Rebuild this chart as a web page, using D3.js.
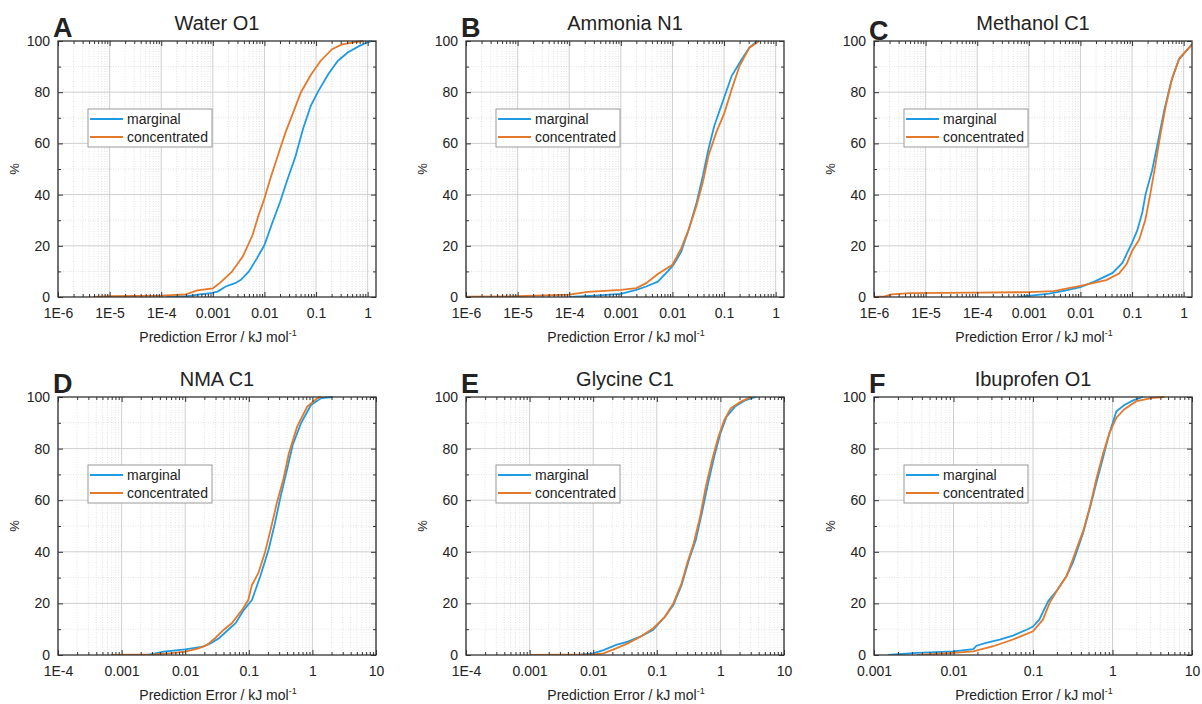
<!DOCTYPE html>
<html>
<head>
<meta charset="utf-8">
<script src="https://cdn.jsdelivr.net/npm/d3@7"></script>
<style>
  body { margin: 0; background: #fff; }
  text { font-family: "Liberation Sans", Arial, sans-serif; fill: #222; }
</style>
</head>
<body>
<div id="canvas"></div>
<script>
// ---- data: [prediction error, cumulative %] ----
const waterMarginal = [[1.26e-4,0],[3.2e-4,0.3],[5.6e-4,1.0],[1e-3,1.6],[1.26e-3,2.2],[1.78e-3,4.1],[2.7e-3,5.4],[3.5e-3,6.7],[5e-3,10],[7.1e-3,15],[0.01,20.3],[0.0141,28.8],[0.02,37],[0.028,46],[0.04,55],[0.056,65.7],[0.079,74.7],[0.112,80.6],[0.172,87],[0.263,92.2],[0.41,95.5],[0.68,98],[1.0,99.5],[1.2,100]];
const waterConc = [[4.8e-6,0],[1e-5,0.3],[1e-4,0.5],[3e-4,1.0],[5e-4,2.6],[1e-3,3.4],[1.36e-3,5.4],[2.3e-3,9.7],[3.8e-3,15.8],[5.9e-3,24.2],[7.7e-3,32],[0.01,38.5],[0.0129,46],[0.018,55],[0.0257,64.4],[0.036,72],[0.051,80],[0.079,86.7],[0.122,92.2],[0.204,96.8],[0.316,98.7],[0.575,99.6],[0.81,100]];

const ammoniaMarginal = [[1e-4,0],[3.2e-4,0.5],[1e-3,1.2],[2e-3,2.8],[3.1e-3,4.1],[5.2e-3,6],[8.1e-3,10],[0.0105,12.6],[0.0148,17.7],[0.021,26.8],[0.0295,37],[0.039,47.5],[0.05,57.9],[0.065,67],[0.093,76],[0.141,86.4],[0.22,92.9],[0.31,97.4],[0.44,100]];
const ammoniaConc = [[1e-6,0.1],[1e-5,0.3],[1e-4,0.9],[2.3e-4,2.0],[1e-3,2.8],[2e-3,3.5],[3.1e-3,5.4],[5.2e-3,9],[0.01,12.6],[0.0148,19],[0.021,26.8],[0.0295,35.9],[0.039,45],[0.05,55.3],[0.071,64.4],[0.1,71.5],[0.141,81.2],[0.2,90.3],[0.31,97.4],[0.48,100]];

const methanolMarginal = [[6.3e-4,0],[2.5e-3,1.3],[5e-3,2.5],[0.01,3.9],[0.02,6.3],[0.042,9.4],[0.065,13.3],[0.1,21.2],[0.126,26],[0.158,33],[0.182,40],[0.245,49.5],[0.32,61],[0.42,73],[0.57,84],[0.8,92.6],[1.45,98.8]];
const methanolConc = [[1e-6,0],[1.6e-6,0.2],[2.2e-6,1.0],[5e-6,1.5],[1e-4,1.7],[1e-3,1.9],[3e-3,2.3],[0.01,4.3],[0.0316,6.6],[0.056,9.2],[0.079,13],[0.1,18],[0.138,22.5],[0.18,30],[0.22,39],[0.28,51],[0.355,63.6],[0.45,74.6],[0.6,85.6],[0.83,93.4],[1.45,98.6]];

const nmaMarginal = [[2.6e-3,0],[4.6e-3,1.3],[0.01,2.2],[0.019,3.2],[0.025,4.5],[0.034,6.5],[0.047,9.7],[0.062,12.3],[0.083,17.4],[0.112,21.3],[0.151,30.4],[0.204,40.7],[0.257,51],[0.316,61.4],[0.398,71.7],[0.49,81.4],[0.66,89.8],[0.95,96.9],[1.38,99.6],[2.1,100]];
const nmaConc = [[6.8e-4,0],[3.3e-3,0.2],[6e-3,0.7],[0.01,1.3],[0.0162,2.6],[0.022,3.9],[0.0295,6.5],[0.04,9.7],[0.054,12.3],[0.078,17.4],[0.098,21.3],[0.112,27.1],[0.141,31.7],[0.178,39.4],[0.22,48.5],[0.275,58.8],[0.347,67.8],[0.427,78.2],[0.575,88.5],[0.83,96.3],[1.2,99.6],[1.38,100]];

const glycineMarginal = [[5.9e-3,0],[0.01,0.6],[0.0145,1.9],[0.023,3.9],[0.035,5.2],[0.055,7.1],[0.087,9.7],[0.135,14.9],[0.182,19.4],[0.245,27.1],[0.32,36.8],[0.41,44.6],[0.51,54.9],[0.64,66.5],[0.8,76.9],[1.0,85.9],[1.25,92.4],[1.7,96.3],[2.5,98.8],[3.6,100]];
const glycineConc = [[1e-3,0],[0.01,0.2],[0.0145,0.6],[0.023,2.6],[0.035,4.5],[0.055,7.1],[0.087,10.3],[0.135,14.9],[0.182,20],[0.245,27.8],[0.3,35.5],[0.38,43.3],[0.48,53.6],[0.59,65.2],[0.74,75.6],[0.93,84.6],[1.15,91],[1.45,95.6],[2.1,98.2],[3.0,100]];

const ibuprofenMarginal = [[1.5e-3,0],[3.5e-3,0.8],[0.01,1.4],[0.0178,2.3],[0.0195,3.6],[0.0257,4.7],[0.038,6.0],[0.056,7.5],[0.083,9.8],[0.1,11],[0.12,13.7],[0.155,20.8],[0.204,25.4],[0.263,30.5],[0.316,35.7],[0.363,40.9],[0.427,47.3],[0.525,57.5],[0.63,67],[0.76,76.4],[0.91,85.8],[1.12,94.5],[1.41,96.9],[1.82,98.7],[2.4,100]];
const ibuprofenConc = [[3.5e-3,0],[0.01,0.8],[0.0178,1.4],[0.0316,3.4],[0.056,6.0],[0.1,9.2],[0.133,13.7],[0.162,20.2],[0.204,25.4],[0.263,30.5],[0.316,37],[0.363,42.2],[0.427,48],[0.525,58],[0.63,68.5],[0.76,78],[0.91,85.8],[1.12,92],[1.41,95.3],[2.0,98.4],[3.2,99.7],[4.5,100]];

const ticksTop = [1e-6,1e-5,1e-4,1e-3,0.01,0.1,1];
const labelsTop = ["1E-6","1E-5","1E-4","0.001","0.01","0.1","1"];
const ticksDE = [1e-4,1e-3,0.01,0.1,1,10];
const labelsDE = ["1E-4","0.001","0.01","0.1","1","10"];
const ticksF = [1e-3,0.01,0.1,1,10];
const labelsF = ["0.001","0.01","0.1","1","10"];
const yTicks = [0,20,40,60,80,100];

const blue = "#1e9be3";
const orange = "#e4792b";

const panels = [
  {letter:"A", title:"Water O1", left:58, top:41, bottom:297, domain:[1e-6,1.45], ticks:ticksTop, labels:labelsTop, m:waterMarginal, c:waterConc},
  {letter:"B", title:"Ammonia N1", left:466, top:41, bottom:297, domain:[1e-6,1.45], ticks:ticksTop, labels:labelsTop, m:ammoniaMarginal, c:ammoniaConc},
  {letter:"C", title:"Methanol C1", left:874, top:41, bottom:297, domain:[1e-6,1.45], ticks:ticksTop, labels:labelsTop, m:methanolMarginal, c:methanolConc, ly:-1},
  {letter:"D", title:"NMA C1", left:58, top:397, bottom:655, domain:[1e-4,10], ticks:ticksDE, labels:labelsDE, m:nmaMarginal, c:nmaConc},
  {letter:"E", title:"Glycine C1", left:466, top:397, bottom:655, domain:[1e-4,10], ticks:ticksDE, labels:labelsDE, m:glycineMarginal, c:glycineConc},
  {letter:"F", title:"Ibuprofen O1", left:874, top:397, bottom:655, domain:[1e-3,10], ticks:ticksF, labels:labelsF, m:ibuprofenMarginal, c:ibuprofenConc}
];

const width = 1202, height = 704;
const pw = 318;

const svg = d3.select("#canvas").append("svg")
  .attr("width", width).attr("height", height);

panels.forEach((p, i) => {
  const ph = p.bottom - p.top;
  const x = d3.scaleLog().domain(p.domain).range([0, pw]);
  const y = d3.scaleLinear().domain([0, 100]).range([ph, 0]);
  const g = svg.append("g").attr("transform", `translate(${p.left},${p.top})`);

  // minor log values (2..9 in each decade)
  const lo = Math.floor(Math.log10(p.domain[0])), hi = Math.ceil(Math.log10(p.domain[1]));
  const minors = [];
  for (let e = lo; e < hi; e++) for (let k = 2; k <= 9; k++) {
    const v = k * Math.pow(10, e);
    if (v > p.domain[0] && v < p.domain[1]) minors.push(v);
  }
  const yMinor = [10, 30, 50, 70, 90];

  // grid
  g.append("g").selectAll("line").data(minors).join("line")
    .attr("x1", d => x(d)).attr("x2", d => x(d)).attr("y1", 0).attr("y2", ph)
    .attr("stroke", "#d6d6d6").attr("stroke-width", 0.7).attr("stroke-dasharray", "1,1.5");
  g.append("g").selectAll("line").data(yMinor).join("line")
    .attr("x1", 0).attr("x2", pw).attr("y1", d => y(d)).attr("y2", d => y(d))
    .attr("stroke", "#d6d6d6").attr("stroke-width", 0.7).attr("stroke-dasharray", "1,1.5");
  g.append("g").selectAll("line").data(p.ticks).join("line")
    .attr("x1", d => x(d)).attr("x2", d => x(d)).attr("y1", 0).attr("y2", ph)
    .attr("stroke", "#cfcfcf").attr("stroke-width", 1);
  g.append("g").selectAll("line").data(yTicks.slice(1, -1)).join("line")
    .attr("x1", 0).attr("x2", pw).attr("y1", d => y(d)).attr("y2", d => y(d))
    .attr("stroke", "#cfcfcf").attr("stroke-width", 1);

  // curves
  const clipId = "clip" + i;
  g.append("clipPath").attr("id", clipId).append("rect")
    .attr("x", 0).attr("y", -2).attr("width", pw).attr("height", ph + 2);
  const line = d3.line().x(d => x(d[0])).y(d => y(d[1]));
  g.append("path").datum(p.m).attr("d", line).attr("clip-path", `url(#${clipId})`)
    .attr("fill", "none").attr("stroke", blue).attr("stroke-width", 1.8);
  g.append("path").datum(p.c).attr("d", line).attr("clip-path", `url(#${clipId})`)
    .attr("fill", "none").attr("stroke", orange).attr("stroke-width", 1.8);

  // axes (inward ticks on all four sides)
  const tickStyle = sel => sel.call(s => s.select(".domain").remove())
    .call(s => s.selectAll("line").attr("stroke", "#333"));
  g.append("g").attr("transform", `translate(0,${ph})`)
    .call(d3.axisBottom(x).tickValues(p.ticks).tickFormat((d, j) => p.labels[j]).tickSizeInner(-5).tickSizeOuter(0).tickPadding(11))
    .call(tickStyle)
    .call(s => s.selectAll("text").attr("font-size", 14).attr("fill", "#222"));
  g.append("g").attr("transform", `translate(0,${ph})`)
    .call(d3.axisBottom(x).tickValues(minors).tickFormat("").tickSizeInner(-3).tickSizeOuter(0))
    .call(tickStyle);
  g.append("g")
    .call(d3.axisTop(x).tickValues(p.ticks).tickFormat("").tickSizeInner(-5).tickSizeOuter(0))
    .call(tickStyle);
  g.append("g")
    .call(d3.axisTop(x).tickValues(minors).tickFormat("").tickSizeInner(-3).tickSizeOuter(0))
    .call(tickStyle);
  g.append("g")
    .call(d3.axisLeft(y).tickValues(yTicks).tickSizeInner(-5).tickSizeOuter(0).tickPadding(8))
    .call(tickStyle)
    .call(s => s.selectAll("text").attr("font-size", 14).attr("fill", "#222"));
  g.append("g")
    .call(d3.axisLeft(y).tickValues(yMinor).tickFormat("").tickSizeInner(-3).tickSizeOuter(0))
    .call(tickStyle);
  g.append("g").attr("transform", `translate(${pw},0)`)
    .call(d3.axisRight(y).tickValues(yTicks).tickFormat("").tickSizeInner(-5).tickSizeOuter(0))
    .call(tickStyle);
  g.append("g").attr("transform", `translate(${pw},0)`)
    .call(d3.axisRight(y).tickValues(yMinor).tickFormat("").tickSizeInner(-3).tickSizeOuter(0))
    .call(tickStyle);

  // frame
  g.append("rect").attr("width", pw).attr("height", ph)
    .attr("fill", "none").attr("stroke", "#333").attr("stroke-width", 1.3);

  // title and panel letter
  g.append("text").attr("x", pw / 2).attr("y", -11).attr("text-anchor", "middle")
    .attr("font-size", 20).text(p.title);
  g.append("text").attr("x", -5).attr("y", p.ly !== undefined ? p.ly : -4)
    .attr("font-size", 27).attr("font-weight", "bold").attr("fill", "#000")
    .text(p.letter);

  // axis titles
  g.append("text").attr("transform", `translate(-39,${ph / 2}) rotate(-90)`)
    .attr("text-anchor", "middle").attr("font-size", 13).text("%");
  const xt = g.append("text").attr("x", pw / 2 + 1).attr("y", ph + 45)
    .attr("text-anchor", "middle").attr("font-size", 14);
  xt.append("tspan").text("Prediction Error / kJ mol");
  xt.append("tspan").attr("font-size", 9).attr("dy", -6).text("-1");

  // legend
  const lg = g.append("g").attr("transform", "translate(30,68)");
  lg.append("rect").attr("width", 124).attr("height", 38)
    .attr("fill", "#fff").attr("stroke", "#999").attr("stroke-width", 1);
  [["marginal", blue], ["concentrated", orange]].forEach(([name, col], k) => {
    lg.append("line").attr("x1", 2).attr("x2", 35).attr("y1", 10 + k * 18).attr("y2", 10 + k * 18)
      .attr("stroke", col).attr("stroke-width", 2);
    lg.append("text").attr("x", 39).attr("y", 15 + k * 18).attr("font-size", 14).text(name);
  });
});
</script>
</body>
</html>
